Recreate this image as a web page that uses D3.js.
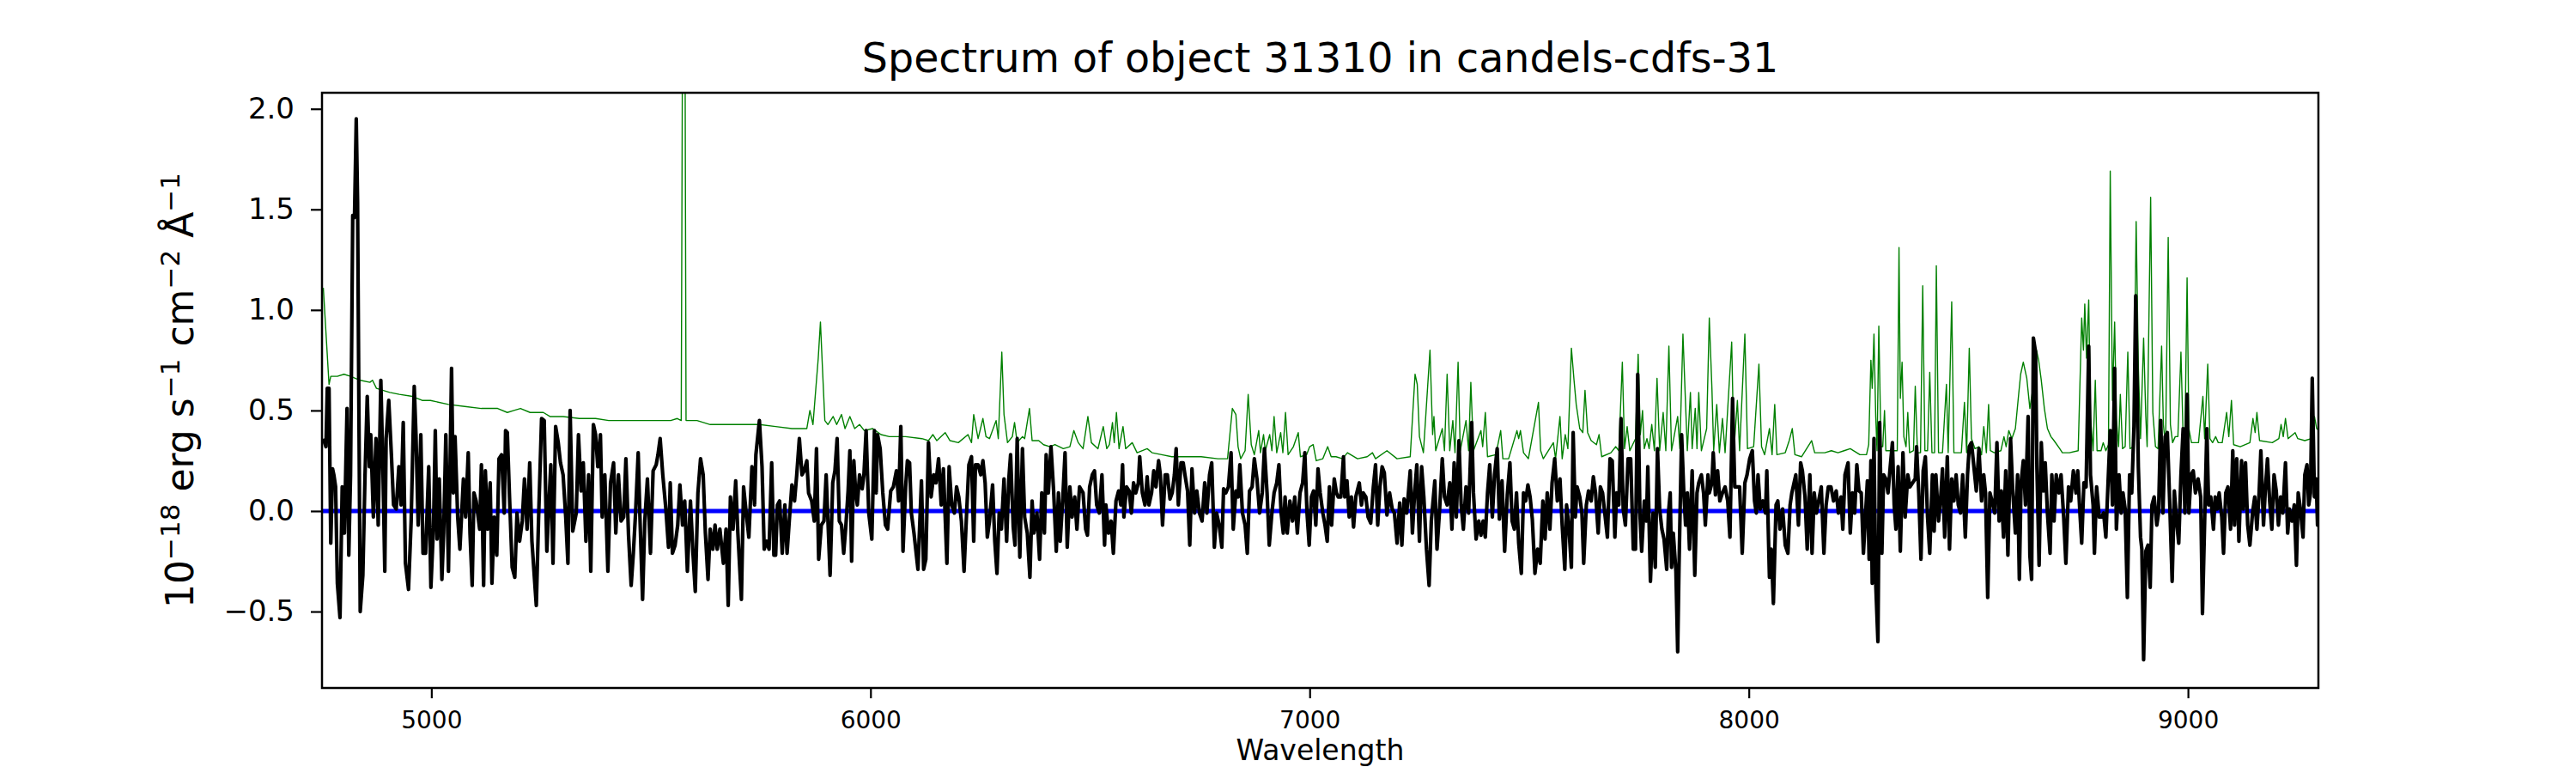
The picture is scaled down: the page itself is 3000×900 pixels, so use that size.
<!DOCTYPE html>
<html>
<head>
<meta charset="utf-8">
<script src="https://cdn.jsdelivr.net/npm/d3@7"></script>
<style>
  body { margin: 0; background: #fff; }
  svg { display: block; }
  text { font-family: "DejaVu Sans", sans-serif; fill: #000; }
</style>
</head>
<body>
<div class="chart"></div>
<script>
// tick labels
const xTicks = [5000, 6000, 7000, 8000, 9000];
const yTicks = [-0.5, 0.0, 0.5, 1.0, 1.5, 2.0];
const xDomain = [4751, 9297];
const yDomain = [-0.88, 2.08];
const zeroLevel = [0];

// observed flux, [wavelength, flux]
const fluxPoints = [
[4754,0.36],[4760,0.32],[4763,0.61],[4767,0.61],[4771,-0.16],[4775,0.21],[4778,0.18],[4782,0.12],[4786,-0.36],[4792,-0.53],
[4797,0.12],[4802,-0.11],[4808,0.51],[4812,-0.22],[4816,0.18],[4821,1.47],[4825,1.46],[4829,1.95],[4832,1.54],[4838,-0.50],
[4844,-0.32],[4849,0.18],[4854,0.57],[4859,0.22],[4862,0.38],[4868,-0.03],[4874,0.36],[4879,-0.07],[4885,0.65],[4890,0.18],
[4894,-0.30],[4897,0.36],[4903,0.55],[4909,0.28],[4914,0.03],[4920,0.01],[4926,0.22],[4931,0.03],[4936,0.44],[4941,-0.26],
[4948,-0.39],[4954,-0.05],[4961,0.62],[4965,0.38],[4970,-0.07],[4976,0.38],[4981,-0.21],[4987,-0.21],[4994,0.22],[4999,-0.38],
[5005,-0.07],[5009,0.40],[5013,-0.14],[5018,0.16],[5024,-0.34],[5028,-0.11],[5033,0.38],[5039,-0.30],[5046,0.71],[5050,0.09],
[5054,0.37],[5060,-0.03],[5065,-0.19],[5073,0.16],[5078,-0.03],[5084,0.29],[5088,-0.11],[5093,-0.37],[5097,0.09],[5102,0.05],
[5110,-0.09],[5114,0.23],[5119,-0.37],[5123,0.20],[5128,-0.09],[5134,0.14],[5138,-0.36],[5143,-0.03],[5149,-0.22],[5154,0.26],
[5160,0.28],[5166,-0.01],[5169,0.40],[5173,0.39],[5178,0.07],[5184,-0.28],[5190,-0.33],[5195,-0.01],[5201,-0.15],[5207,-0.05],
[5212,0.16],[5218,-0.09],[5224,0.24],[5229,-0.15],[5239,-0.47],[5244,-0.05],[5251,0.46],[5257,0.45],[5263,-0.20],[5268,0.05],
[5272,0.23],[5277,-0.26],[5283,0.42],[5289,0.34],[5294,0.24],[5300,0.18],[5306,-0.03],[5311,-0.26],[5316,0.50],[5322,-0.10],
[5330,-0.01],[5335,0.38],[5341,0.10],[5346,0.24],[5352,-0.15],[5358,0.18],[5363,-0.30],[5369,0.43],[5374,0.38],[5379,0.22],
[5385,0.38],[5389,-0.03],[5395,0.18],[5402,-0.30],[5408,0.14],[5415,0.24],[5420,-0.11],[5426,0.18],[5432,-0.05],[5438,-0.03],
[5443,0.26],[5449,-0.12],[5455,-0.37],[5460,-0.21],[5465,-0.01],[5471,0.29],[5475,-0.03],[5481,-0.44],[5486,-0.05],[5492,0.16],
[5499,-0.21],[5505,0.20],[5512,0.23],[5516,0.28],[5521,0.36],[5527,0.18],[5534,0.01],[5540,-0.18],[5544,0.14],[5549,-0.21],
[5555,-0.17],[5561,-0.07],[5566,0.13],[5572,-0.07],[5577,0.05],[5583,-0.30],[5590,0.05],[5596,-0.22],[5601,-0.40],[5607,0.09],
[5613,0.26],[5619,0.18],[5624,-0.11],[5630,-0.34],[5635,-0.09],[5641,-0.19],[5646,-0.07],[5651,-0.19],[5657,-0.09],[5665,-0.26],
[5671,-0.09],[5676,-0.47],[5681,0.07],[5687,-0.09],[5693,0.15],[5698,-0.11],[5706,-0.44],[5711,0.12],[5717,-0.01],[5723,-0.13],
[5730,0.22],[5736,0.03],[5739,0.28],[5747,0.45],[5753,0.22],[5758,-0.19],[5763,-0.15],[5769,-0.19],[5775,0.24],[5780,-0.22],
[5784,-0.22],[5788,0.03],[5793,0.05],[5799,-0.21],[5805,0.03],[5810,-0.21],[5815,-0.05],[5821,0.13],[5827,0.05],[5832,0.18],
[5838,0.36],[5844,0.18],[5849,0.20],[5855,0.25],[5859,0.09],[5866,0.05],[5872,-0.05],[5877,0.31],[5882,-0.24],[5888,-0.07],
[5894,-0.05],[5899,0.18],[5908,-0.32],[5914,0.14],[5919,0.20],[5924,0.36],[5929,-0.05],[5934,-0.07],[5939,-0.21],[5944,-0.07],
[5949,0.10],[5953,0.30],[5957,-0.25],[5962,0.25],[5966,0.10],[5970,0.03],[5975,0.18],[5981,0.11],[5985,0.18],[5990,0.40],
[5996,-0.01],[6003,-0.14],[6009,0.40],[6013,0.09],[6016,0.38],[6022,0.31],[6028,0.09],[6034,-0.07],[6039,-0.09],[6046,0.10],
[6052,0.12],[6059,0.20],[6064,0.05],[6069,0.42],[6074,-0.20],[6080,0.12],[6084,0.25],[6089,0.24],[6093,-0.01],[6099,-0.11],
[6108,-0.29],[6116,0.15],[6121,-0.29],[6126,-0.24],[6132,0.34],[6138,0.07],[6144,0.18],[6149,0.14],[6155,0.26],[6161,0.03],
[6166,0.21],[6174,-0.26],[6179,0.22],[6185,0.03],[6191,-0.01],[6196,0.12],[6201,0.07],[6207,-0.05],[6213,-0.30],[6218,-0.05],
[6224,0.23],[6230,0.27],[6235,-0.15],[6239,0.23],[6245,0.23],[6251,0.18],[6256,0.25],[6261,0.14],[6266,-0.13],[6271,-0.05],
[6278,0.13],[6283,-0.15],[6288,-0.31],[6293,-0.01],[6298,-0.09],[6304,0.16],[6310,-0.15],[6315,0.16],[6319,0.28],[6325,-0.08],
[6329,-0.17],[6334,0.36],[6340,-0.23],[6346,0.31],[6351,-0.03],[6357,-0.11],[6363,-0.33],[6368,0.05],[6372,-0.11],[6379,-0.01],
[6385,-0.24],[6390,0.09],[6396,-0.11],[6400,0.28],[6405,0.09],[6411,0.32],[6417,0.10],[6423,-0.20],[6428,0.09],[6432,-0.15],
[6438,0.07],[6443,0.29],[6448,-0.18],[6454,0.12],[6459,-0.03],[6465,0.07],[6470,-0.09],[6476,0.12],[6484,0.09],[6490,-0.09],
[6494,-0.12],[6499,0.12],[6505,0.18],[6510,0.20],[6515,0.03],[6521,-0.01],[6527,0.18],[6533,-0.17],[6536,0.03],[6542,-0.11],
[6548,-0.05],[6553,-0.21],[6559,0.05],[6565,0.10],[6570,0.03],[6574,0.23],[6577,-0.03],[6583,0.12],[6589,0.10],[6594,-0.01],
[6599,0.14],[6604,0.09],[6610,0.14],[6613,0.27],[6619,0.09],[6625,0.03],[6630,0.17],[6634,0.03],[6640,0.09],[6645,0.20],
[6650,0.12],[6656,0.25],[6660,0.18],[6665,-0.07],[6671,0.18],[6676,0.18],[6682,0.06],[6687,0.09],[6692,0.18],[6696,0.31],
[6701,0.03],[6707,0.24],[6712,0.24],[6716,0.18],[6722,0.10],[6727,-0.17],[6732,0.21],[6738,-0.01],[6743,0.10],[6749,-0.01],
[6755,-0.05],[6761,0.14],[6766,-0.01],[6772,0.18],[6777,0.24],[6783,-0.18],[6788,-0.01],[6794,-0.07],[6800,-0.18],[6804,0.11],
[6809,0.09],[6815,0.12],[6821,0.29],[6826,-0.09],[6832,0.10],[6837,0.07],[6841,0.23],[6847,-0.01],[6853,-0.07],[6858,-0.21],
[6863,0.10],[6869,0.12],[6874,0.26],[6880,0.16],[6886,-0.01],[6892,0.09],[6897,0.31],[6903,0.09],[6908,-0.17],[6914,-0.01],
[6919,0.09],[6925,0.14],[6930,0.23],[6935,-0.01],[6940,-0.11],[6944,0.07],[6949,-0.11],[6955,0.05],[6961,-0.05],[6966,0.07],
[6972,-0.11],[6978,0.09],[6984,0.14],[6989,0.29],[6994,-0.01],[6999,-0.17],[7004,0.07],[7009,0.10],[7014,-0.07],[7019,0.21],
[7024,0.09],[7030,-0.01],[7035,-0.07],[7040,-0.15],[7045,0.12],[7050,-0.07],[7056,0.16],[7061,0.09],[7065,0.07],[7071,0.07],
[7077,0.27],[7080,0.07],[7085,0.15],[7090,-0.03],[7095,0.07],[7100,-0.08],[7105,0.07],[7113,0.14],[7118,0.03],[7122,0.09],
[7128,0.07],[7133,-0.03],[7139,-0.06],[7145,0.12],[7150,0.23],[7155,-0.07],[7160,0.12],[7165,0.22],[7170,0.19],[7176,-0.02],
[7182,0.09],[7188,0.01],[7193,-0.01],[7199,-0.16],[7205,0.04],[7210,-0.17],[7215,0.06],[7221,-0.01],[7229,0.20],[7234,-0.11],
[7239,0.09],[7244,0.23],[7250,-0.15],[7255,0.22],[7260,0.07],[7266,-0.19],[7272,-0.37],[7277,-0.05],[7285,0.15],[7290,-0.19],
[7296,0.01],[7302,0.26],[7307,0.07],[7313,0.03],[7319,0.14],[7324,-0.09],[7329,0.24],[7334,-0.03],[7340,0.35],[7345,0.03],
[7350,-0.09],[7356,0.12],[7362,-0.01],[7369,0.44],[7373,0.09],[7379,-0.14],[7385,-0.05],[7390,-0.12],[7395,-0.05],[7400,-0.13],
[7405,0.09],[7410,0.23],[7416,-0.03],[7421,0.18],[7427,0.31],[7432,-0.04],[7438,0.15],[7444,-0.20],[7450,0.08],[7456,0.24],
[7461,-0.05],[7466,-0.09],[7471,0.09],[7476,-0.16],[7482,-0.31],[7487,0.09],[7492,0.05],[7497,0.13],[7502,0.07],[7507,-0.04],
[7513,-0.31],[7519,-0.19],[7525,-0.26],[7531,0.05],[7536,-0.14],[7541,0.09],[7547,-0.09],[7552,0.14],[7558,0.26],[7564,0.05],
[7570,0.16],[7575,-0.07],[7581,-0.29],[7585,0.03],[7590,-0.07],[7596,-0.28],[7600,0.39],[7605,-0.03],[7609,0.12],[7615,0.07],
[7620,-0.01],[7624,-0.26],[7630,0.03],[7635,0.10],[7641,0.05],[7646,0.17],[7651,0.09],[7657,-0.11],[7662,0.12],[7667,0.09],
[7672,-0.01],[7678,-0.13],[7684,0.26],[7689,0.25],[7695,-0.13],[7699,0.09],[7704,0.03],[7709,0.46],[7714,0.01],[7719,-0.07],
[7725,0.26],[7731,0.26],[7737,-0.19],[7742,-0.19],[7747,0.68],[7752,-0.01],[7756,-0.20],[7762,0.05],[7767,-0.05],[7770,0.22],
[7776,-0.35],[7782,-0.01],[7787,-0.28],[7792,0.31],[7797,0.01],[7802,-0.09],[7807,-0.14],[7813,-0.29],[7817,-0.01],[7821,0.09],
[7824,-0.28],[7828,-0.11],[7834,-0.30],[7838,-0.70],[7841,-0.28],[7847,0.38],[7852,0.09],[7856,-0.07],[7860,0.09],[7865,-0.19],
[7871,0.20],[7877,-0.32],[7882,0.09],[7886,0.14],[7892,0.18],[7897,0.09],[7901,-0.07],[7907,0.18],[7910,0.09],[7916,0.14],
[7919,0.29],[7924,0.08],[7929,0.20],[7934,0.05],[7940,0.09],[7946,0.12],[7952,0.05],[7957,-0.13],[7963,0.56],[7968,0.12],
[7974,0.12],[7979,0.12],[7985,-0.21],[7991,0.14],[7996,0.18],[8002,0.26],[8008,0.30],[8013,0.05],[8017,-0.01],[8021,0.18],
[8026,0.01],[8032,0.05],[8038,-0.01],[8041,0.20],[8047,-0.33],[8051,-0.19],[8056,-0.46],[8062,0.03],[8066,0.05],[8071,-0.09],
[8077,0.01],[8083,-0.17],[8089,-0.21],[8094,0.03],[8098,0.09],[8103,0.14],[8107,0.18],[8113,-0.07],[8118,0.24],[8122,0.20],
[8128,0.07],[8133,-0.19],[8139,0.18],[8144,-0.21],[8149,0.09],[8154,-0.01],[8159,0.05],[8165,0.12],[8171,-0.21],[8176,0.03],
[8181,0.12],[8187,0.12],[8193,0.05],[8199,0.10],[8204,-0.01],[8210,0.07],[8214,-0.09],[8219,0.18],[8226,0.24],[8231,-0.11],
[8236,0.09],[8241,-0.01],[8246,0.23],[8251,0.10],[8256,0.09],[8261,-0.21],[8266,-0.01],[8270,0.15],[8274,-0.24],[8278,0.25],
[8281,-0.36],[8285,0.36],[8289,-0.36],[8294,-0.65],[8298,0.44],[8303,-0.21],[8307,0.18],[8312,0.16],[8317,0.09],[8322,0.22],
[8327,0.34],[8331,0.03],[8335,-0.09],[8340,0.22],[8345,-0.20],[8351,0.29],[8356,-0.03],[8362,0.18],[8367,0.12],[8373,0.14],
[8379,0.16],[8382,0.32],[8387,0.09],[8392,-0.24],[8397,0.20],[8402,0.27],[8407,-0.03],[8412,-0.21],[8418,0.18],[8422,-0.10],
[8426,0.18],[8432,-0.05],[8437,0.07],[8441,0.21],[8446,-0.13],[8452,0.27],[8457,-0.19],[8462,0.16],[8467,0.05],[8472,0.18],
[8477,0.03],[8482,-0.01],[8487,0.18],[8493,-0.13],[8498,0.18],[8502,0.32],[8507,0.34],[8513,0.21],[8518,0.10],[8524,0.31],
[8530,0.05],[8535,0.18],[8539,0.09],[8544,-0.43],[8549,0.09],[8555,0.04],[8560,-0.01],[8565,0.34],[8570,-0.05],[8575,0.10],
[8580,-0.13],[8585,0.20],[8590,-0.22],[8596,0.36],[8601,0.10],[8607,-0.11],[8612,0.18],[8616,-0.34],[8620,0.14],[8625,0.25],
[8630,0.03],[8636,0.47],[8640,-0.22],[8644,-0.34],[8648,0.86],[8653,0.79],[8656,0.22],[8661,-0.27],[8666,0.34],[8671,0.10],
[8675,0.24],[8680,-0.01],[8686,-0.21],[8690,0.18],[8695,-0.05],[8700,0.18],[8706,0.09],[8711,0.18],[8717,-0.03],[8722,-0.26],
[8728,0.12],[8733,0.05],[8739,0.20],[8745,0.09],[8749,0.20],[8754,-0.01],[8758,-0.16],[8763,0.14],[8768,0.12],[8774,0.82],
[8778,0.18],[8784,0.03],[8787,-0.21],[8792,0.12],[8798,-0.03],[8803,-0.03],[8808,-0.01],[8813,-0.13],[8818,0.14],[8823,0.40],
[8828,0.03],[8833,0.71],[8837,-0.09],[8843,0.18],[8848,-0.01],[8852,0.09],[8857,0.01],[8862,-0.43],[8867,0.18],[8872,0.09],
[8877,0.42],[8881,1.07],[8887,0.22],[8892,-0.13],[8895,-0.19],[8899,-0.74],[8904,-0.20],[8909,-0.17],[8914,-0.38],[8918,0.03],
[8923,0.07],[8929,-0.07],[8933,-0.01],[8938,0.45],[8943,-0.01],[8948,0.37],[8953,0.39],[8958,0.07],[8964,-0.35],[8969,0.10],
[8974,-0.05],[8979,-0.16],[8984,0.18],[8989,0.41],[8993,-0.01],[8998,0.58],[9002,-0.01],[9007,0.18],[9012,0.20],[9017,0.09],
[9023,0.16],[9029,0.07],[9033,-0.51],[9038,-0.05],[9043,0.41],[9047,0.03],[9052,0.07],[9058,-0.09],[9062,0.07],[9067,0.01],
[9071,0.09],[9077,-0.03],[9081,-0.21],[9086,0.09],[9091,0.12],[9097,-0.09],[9102,0.30],[9106,-0.07],[9111,0.26],[9116,-0.15],
[9122,0.25],[9126,0.01],[9131,0.24],[9136,-0.07],[9141,-0.17],[9147,-0.01],[9152,0.07],[9157,-0.09],[9162,0.09],[9166,0.30],
[9172,-0.07],[9176,0.10],[9181,0.26],[9186,0.05],[9191,-0.09],[9196,0.18],[9201,0.10],[9206,-0.07],[9211,0.07],[9216,-0.01],
[9222,0.24],[9227,-0.11],[9231,0.01],[9237,-0.05],[9242,0.03],[9247,-0.27],[9251,0.09],[9256,0.01],[9262,-0.13],[9266,0.18],
[9271,0.23],[9275,0.03],[9279,0.09],[9283,0.66],[9288,0.07],[9292,0.16],[9295,-0.07],[9301,0.10]
];

// model / contamination curve, [wavelength, flux]
const modelPoints = [
[4754,1.11],[4767,0.63],[4771,0.67],[4786,0.67],[4801,0.68],[4816,0.67],[4838,0.65],[4860,0.64],[4866,0.65],[4875,0.61],
[4905,0.59],[4927,0.58],[4957,0.57],[4979,0.55],[4998,0.55],[5039,0.53],[5076,0.52],[5114,0.51],[5151,0.51],[5173,0.49],
[5188,0.50],[5203,0.51],[5225,0.49],[5255,0.49],[5270,0.47],[5300,0.47],[5337,0.46],[5374,0.46],[5404,0.45],[5449,0.45],
[5486,0.45],[5523,0.45],[5545,0.45],[5560,0.46],[5569,0.45],[5575,4.5],[5580,0.45],[5605,0.45],[5635,0.43],
[5672,0.43],[5710,0.43],[5747,0.43],[5784,0.42],[5821,0.41],[5855,0.41],[5862,0.50],[5869,0.43],[5881,0.76],[5886,0.94],
[5890,0.74],[5896,0.45],[5903,0.43],[5915,0.47],[5923,0.43],[5934,0.48],[5942,0.41],[5953,0.47],[5964,0.41],[5975,0.43],
[5986,0.40],[6005,0.41],[6024,0.38],[6043,0.37],[6080,0.37],[6117,0.36],[6132,0.35],[6142,0.38],[6151,0.35],[6170,0.39],
[6181,0.35],[6200,0.34],[6222,0.38],[6230,0.34],[6235,0.48],[6245,0.36],[6256,0.46],[6263,0.37],[6271,0.36],[6286,0.45],
[6291,0.36],[6299,0.79],[6304,0.48],[6312,0.34],[6323,0.37],[6328,0.44],[6334,0.34],[6346,0.37],[6351,0.36],[6362,0.51],
[6368,0.35],[6383,0.35],[6394,0.33],[6409,0.32],[6420,0.33],[6439,0.31],[6454,0.32],[6463,0.40],[6473,0.34],[6484,0.31],
[6495,0.47],[6503,0.34],[6518,0.31],[6530,0.42],[6538,0.31],[6544,0.33],[6551,0.44],[6555,0.34],[6560,0.49],[6566,0.31],
[6575,0.42],[6581,0.31],[6596,0.34],[6607,0.29],[6630,0.31],[6641,0.29],[6663,0.28],[6686,0.27],[6716,0.27],[6753,0.27],
[6791,0.26],[6813,0.26],[6824,0.51],[6832,0.48],[6837,0.32],[6843,0.26],[6853,0.30],[6860,0.58],[6867,0.33],[6874,0.28],
[6884,0.40],[6888,0.29],[6895,0.38],[6899,0.30],[6909,0.38],[6914,0.30],[6919,0.47],[6925,0.29],[6934,0.39],[6939,0.29],
[6945,0.49],[6951,0.28],[6963,0.32],[6974,0.39],[6979,0.27],[6993,0.28],[7000,0.32],[7008,0.33],[7015,0.25],[7030,0.26],
[7041,0.32],[7049,0.27],[7060,0.27],[7075,0.26],[7086,0.29],[7109,0.26],[7131,0.27],[7143,0.29],[7150,0.26],[7176,0.30],
[7199,0.26],[7229,0.27],[7240,0.68],[7245,0.63],[7250,0.37],[7259,0.29],[7274,0.80],[7280,0.38],[7283,0.47],[7287,0.30],
[7302,0.41],[7307,0.30],[7313,0.68],[7319,0.30],[7326,0.45],[7331,0.29],[7338,0.74],[7343,0.30],[7356,0.45],[7362,0.30],
[7367,0.64],[7373,0.30],[7390,0.40],[7394,0.32],[7400,0.49],[7405,0.27],[7424,0.28],[7435,0.40],[7440,0.26],[7453,0.26],
[7472,0.40],[7476,0.36],[7480,0.40],[7487,0.29],[7498,0.26],[7521,0.54],[7526,0.30],[7532,0.26],[7555,0.34],[7560,0.26],
[7570,0.47],[7575,0.26],[7582,0.38],[7588,0.31],[7596,0.81],[7602,0.65],[7607,0.53],[7615,0.41],[7622,0.39],[7627,0.60],
[7633,0.39],[7641,0.35],[7653,0.33],[7659,0.38],[7665,0.27],[7686,0.29],[7697,0.32],[7704,0.30],[7712,0.74],[7717,0.31],
[7723,0.42],[7729,0.30],[7742,0.36],[7748,0.78],[7753,0.38],[7758,0.50],[7762,0.31],[7768,0.36],[7773,0.31],[7779,0.43],
[7785,0.30],[7791,0.66],[7797,0.30],[7805,0.49],[7811,0.30],[7818,0.82],[7824,0.30],[7838,0.47],[7843,0.31],[7850,0.88],
[7856,0.53],[7860,0.30],[7867,0.59],[7871,0.31],[7878,0.51],[7882,0.31],[7886,0.59],[7892,0.30],[7904,0.41],[7910,0.96],
[7916,0.61],[7920,0.30],[7927,0.53],[7933,0.29],[7940,0.46],[7946,0.29],[7961,0.84],[7966,0.30],[7974,0.55],[7979,0.30],
[7991,0.88],[7997,0.31],[8011,0.32],[8023,0.73],[8029,0.32],[8036,0.28],[8047,0.41],[8053,0.28],[8059,0.53],[8064,0.28],
[8083,0.29],[8092,0.35],[8099,0.41],[8105,0.28],[8120,0.27],[8143,0.35],[8150,0.29],[8173,0.29],[8188,0.30],[8203,0.29],
[8217,0.30],[8231,0.31],[8253,0.28],[8268,0.28],[8273,0.33],[8278,0.75],[8281,0.61],[8285,0.88],[8289,0.47],[8292,0.30],
[8296,0.92],[8301,0.32],[8305,0.32],[8309,0.50],[8312,0.30],[8338,0.30],[8342,1.31],[8345,0.56],[8349,0.74],[8353,0.37],
[8358,0.32],[8362,0.49],[8366,0.29],[8375,0.30],[8379,0.62],[8384,0.29],[8391,0.29],[8396,1.12],[8401,0.30],[8407,0.30],
[8412,0.69],[8417,0.29],[8423,0.29],[8427,1.22],[8432,0.29],[8441,0.29],[8450,0.63],[8454,0.29],[8462,1.04],[8467,0.29],
[8484,0.29],[8491,0.54],[8496,0.29],[8502,0.81],[8507,0.36],[8515,0.31],[8524,0.32],[8530,0.28],[8535,0.42],[8541,0.29],
[8546,0.53],[8550,0.30],[8559,0.29],[8574,0.30],[8581,0.37],[8586,0.32],[8592,0.40],[8599,0.36],[8607,0.41],[8614,0.57],
[8619,0.68],[8625,0.74],[8633,0.66],[8640,0.51],[8647,0.61],[8655,0.80],[8660,0.75],[8666,0.65],[8673,0.51],[8680,0.41],
[8688,0.37],[8695,0.35],[8708,0.31],[8714,0.29],[8730,0.29],[8750,0.30],[8758,0.96],[8762,0.80],[8765,1.03],[8769,0.76],
[8774,1.05],[8778,0.47],[8784,0.30],[8789,0.65],[8793,0.30],[8802,0.30],[8807,0.34],[8813,0.30],[8819,0.33],[8823,1.69],
[8828,0.55],[8833,0.94],[8837,0.46],[8842,0.32],[8846,0.58],[8851,0.31],[8857,0.32],[8863,0.79],[8868,0.31],[8876,0.32],
[8882,1.44],[8887,0.72],[8892,0.36],[8899,0.86],[8904,0.47],[8907,0.32],[8915,1.56],[8920,0.49],[8926,0.32],[8932,0.31],
[8940,0.82],[8944,0.43],[8949,0.32],[8955,1.36],[8960,0.43],[8965,0.34],[8971,0.37],[8977,0.37],[8984,0.79],[8989,0.37],
[8993,0.34],[8998,1.16],[9002,0.41],[9008,0.34],[9024,0.34],[9034,0.57],[9038,0.36],[9045,0.73],[9050,0.36],[9056,0.34],
[9063,0.37],[9069,0.34],[9078,0.34],[9088,0.49],[9093,0.37],[9099,0.55],[9104,0.33],[9119,0.32],[9141,0.34],[9148,0.46],
[9153,0.39],[9157,0.49],[9163,0.35],[9192,0.34],[9207,0.36],[9212,0.43],[9217,0.37],[9222,0.46],[9228,0.36],[9244,0.39],
[9250,0.36],[9266,0.35],[9281,0.36],[9288,0.47],[9293,0.41],[9299,0.40]
];

const width = 3000, height = 900;
const plotLeft = 375, plotRight = 2700, plotTop = 108, plotBottom = 801;

let svg = d3.select('.chart')
	.append('svg')
	.attr('width', width)
	.attr('height', height);

svg.append('rect')
	.attr('width', width)
	.attr('height', height)
	.attr('fill', '#fff');

const x = d3.scaleLinear().domain(xDomain).range([plotLeft, plotRight]);
const y = d3.scaleLinear().domain(yDomain).range([plotBottom, plotTop]);

svg.append('clipPath')
	.attr('id', 'plotclip')
	.append('rect')
	.attr('x', plotLeft)
	.attr('y', plotTop)
	.attr('width', plotRight - plotLeft)
	.attr('height', plotBottom - plotTop);

const line = d3.line()
	.x(d => x(d[0]))
	.y(d => y(d[1]));

let plot = svg.append('g').attr('clip-path', 'url(#plotclip)');

// green curve
plot.append('path')
	.datum(modelPoints)
	.attr('d', line)
	.attr('fill', 'none')
	.attr('stroke', '#008000')
	.attr('stroke-width', 1.4)
	.attr('stroke-linejoin', 'round');

// zero level
plot.selectAll('.zero')
	.data(zeroLevel)
	.enter()
	.append('line')
	.attr('class', 'zero')
	.attr('x1', x(xDomain[0]))
	.attr('x2', x(xDomain[1]))
	.attr('y1', d => y(d))
	.attr('y2', d => y(d))
	.attr('stroke', '#0000ff')
	.attr('stroke-width', 5);

// observed flux
plot.append('path')
	.datum(fluxPoints)
	.attr('d', line)
	.attr('fill', 'none')
	.attr('stroke', '#000')
	.attr('stroke-width', 4.2)
	.attr('stroke-linejoin', 'round');

// axes
let gx = svg.append('g')
	.attr('transform', `translate(0,${plotBottom})`)
	.call(d3.axisBottom(x).tickValues(xTicks).tickSize(12).tickPadding(15).tickFormat(d3.format('d')));
gx.select('.domain').remove();
gx.selectAll('line').attr('stroke', '#000').attr('stroke-width', 2.2);
gx.selectAll('text').style('font-size', '28px').style('font-family', '"DejaVu Sans", sans-serif');

let gy = svg.append('g')
	.attr('transform', `translate(${plotLeft},0)`)
	.call(d3.axisLeft(y).tickValues(yTicks).tickSize(13).tickPadding(19)
		.tickFormat(d => d3.format('.1f')(d).replace('-', '\u2212')));
gy.select('.domain').remove();
gy.selectAll('line').attr('stroke', '#000').attr('stroke-width', 2.2);
gy.selectAll('text').style('font-size', '34px').style('font-family', '"DejaVu Sans", sans-serif');

// frame
svg.append('rect')
	.attr('x', plotLeft)
	.attr('y', plotTop)
	.attr('width', plotRight - plotLeft)
	.attr('height', plotBottom - plotTop)
	.attr('fill', 'none')
	.attr('stroke', '#000')
	.attr('stroke-width', 2.5);

// title
svg.append('text')
	.attr('x', (plotLeft + plotRight) / 2)
	.attr('y', 84)
	.attr('text-anchor', 'middle')
	.style('font-size', '47.5px')
	.text('Spectrum of object 31310 in candels-cdfs-31');

// x label
svg.append('text')
	.attr('x', (plotLeft + plotRight) / 2)
	.attr('y', 885)
	.attr('text-anchor', 'middle')
	.style('font-size', '33px')
	.text('Wavelength');

// y label with superscripts
const ylab = svg.append('text')
	.attr('transform', `translate(225,${(plotTop + plotBottom) / 2}) rotate(-90)`)
	.attr('text-anchor', 'middle')
	.style('font-size', '44px');
const labelParts = [
	['10', false], ['\u221218', true], [' erg s', false], ['\u22121', true],
	[' cm', false], ['\u22122', true], [' \u00c5', false], ['\u22121', true]
];
let raised = false;
labelParts.forEach(p => {
	let t = ylab.append('tspan').text(p[0]);
	if (p[1]) { t.attr('dy', -16).style('font-size', '31px'); raised = true; }
	else if (raised) { t.attr('dy', 16); raised = false; }
});
</script>
</body>
</html>
